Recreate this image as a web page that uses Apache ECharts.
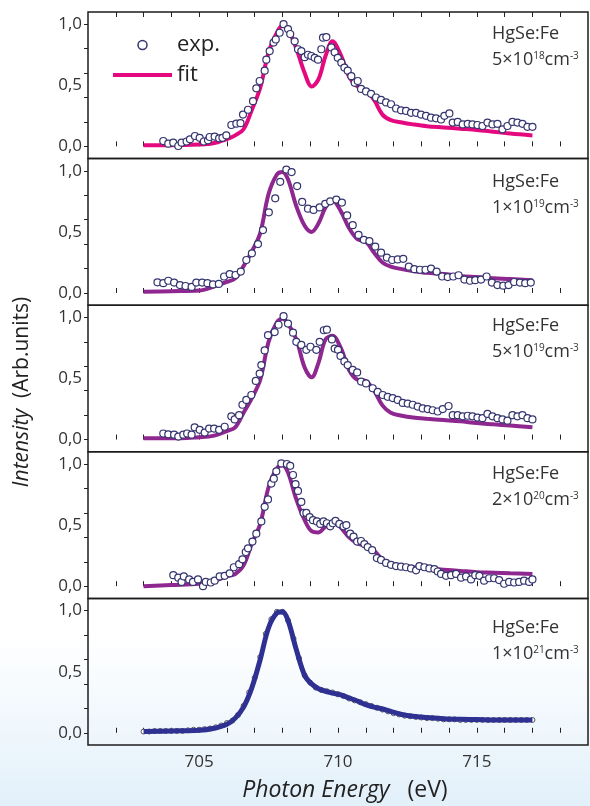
<!DOCTYPE html>
<html>
<head>
<meta charset="utf-8">
<script src="https://cdn.jsdelivr.net/npm/echarts@6/dist/echarts.min.js"></script>
<style>
html, body { margin: 0; padding: 0; }
body { width: 590px; height: 806px; background: linear-gradient(to bottom, #ffffff 0%, #ffffff 79%, #e2f0fa 100%); }
#chart { width: 590px; height: 806px; }
</style>
</head>
<body>
<div id="chart"></div>
<script>
// tick positions / labels
var xTicks = [702, 703, 704, 705, 706, 707, 708, 709, 710, 711, 712, 713, 714, 715, 716, 717, 718];
var xLabels = [705, 710, 715];
var yTicks = [0, 0.2, 0.4, 0.6, 0.8, 1.0];
var yLabels = [0, 0.5, 1.0];
var sampleNames = ['5×10|18', '1×10|19', '5×10|19', '2×10|20', '1×10|21'];

// energies where the fit curves are sampled (eV)
var fitE = [703, 704, 705, 705.5, 706, 706.3, 706.6, 706.9, 707.2, 707.5, 707.8, 708.0, 708.2, 708.5, 708.8,
  709.05, 709.3, 709.55, 709.8, 710.1, 710.4, 710.7, 711.0, 711.3, 711.6, 711.9, 712.3, 712.7, 713.2, 713.8,
  714.4, 715.0, 715.6, 716.2, 717];

var fit1 = [0.01, 0.01, 0.015, 0.025, 0.06, 0.09, 0.14, 0.30, 0.48, 0.77, 0.93, 0.99, 0.96, 0.80, 0.60,
  0.49, 0.55, 0.74, 0.86, 0.75, 0.57, 0.49, 0.46, 0.38, 0.26, 0.215, 0.195, 0.18, 0.165, 0.155,
  0.145, 0.135, 0.12, 0.105, 0.09];
var fit2 = [0.01, 0.015, 0.02, 0.05, 0.09, 0.12, 0.22, 0.34, 0.49, 0.81, 0.97, 0.99, 0.93, 0.71, 0.55,
  0.50, 0.57, 0.70, 0.76, 0.67, 0.53, 0.44, 0.42, 0.33, 0.25, 0.215, 0.195, 0.18, 0.165, 0.155,
  0.14, 0.13, 0.12, 0.115, 0.105];
var fit3 = [0.01, 0.01, 0.02, 0.03, 0.07, 0.10, 0.22, 0.34, 0.49, 0.80, 0.96, 0.99, 0.95, 0.82, 0.59,
  0.51, 0.63, 0.82, 0.85, 0.75, 0.57, 0.49, 0.48, 0.40, 0.28, 0.22, 0.195, 0.18, 0.17, 0.16,
  0.15, 0.135, 0.125, 0.115, 0.10];
var fit4 = [0.0, 0.01, 0.02, 0.04, 0.08, 0.10, 0.17, 0.35, 0.51, 0.81, 0.965, 0.99, 0.93, 0.71, 0.54,
  0.45, 0.44, 0.49, 0.53, 0.48, 0.40, 0.35, 0.33, 0.29, 0.22, 0.185, 0.165, 0.155, 0.145, 0.135,
  0.125, 0.115, 0.11, 0.105, 0.10];
var fit5 = [0.01, 0.015, 0.02, 0.035, 0.07, 0.12, 0.21, 0.37, 0.60, 0.86, 0.98, 0.99, 0.92, 0.68, 0.47,
  0.40, 0.36, 0.34, 0.325, 0.31, 0.285, 0.26, 0.23, 0.21, 0.195, 0.175, 0.15, 0.135, 0.125, 0.115,
  0.11, 0.108, 0.105, 0.105, 0.105];

// experimental points [eV, intensity]
var exp1 = [[703.71,0.044],[703.89,0.022],[704.07,0.03],[704.25,0.003],[704.37,0.03],[704.55,0.04],[704.67,0.058],[704.85,0.085],[705.02,0.07],[705.17,0.04],[705.32,0.05],[705.38,0.077],[705.56,0.08],[705.72,0.066],[705.84,0.07],[705.98,0.09],[706.16,0.175],[706.34,0.186],[706.49,0.19],[706.58,0.26],[706.76,0.30],[706.94,0.37],[707.06,0.475],[707.18,0.535],[707.36,0.62],[707.42,0.71],[707.54,0.78],[707.68,0.85],[707.76,0.875],[707.9,0.93],[708.04,1.0],[708.2,0.96],[708.28,0.92],[708.44,0.86],[708.56,0.795],
  [708.68,0.78],[708.8,0.73],[708.92,0.75],[709.04,0.74],[709.16,0.725],[709.28,0.71],[709.4,0.795],[709.46,0.89],[709.58,0.895],[709.76,0.81],[709.88,0.77],[709.99,0.725],[710.12,0.685],[710.23,0.645],[710.35,0.62],[710.48,0.575],[710.6,0.52],[710.71,0.535],[710.83,0.47],[711.01,0.45],[711.19,0.43],[711.37,0.40],[711.55,0.38],[711.73,0.36],[711.91,0.345],[712.09,0.31],[712.27,0.295],[712.45,0.29],[712.63,0.275],[712.81,0.275],[712.99,0.26],[713.17,0.25],[713.35,0.235],[713.53,0.23],[713.71,0.22],[713.83,0.25],[714.01,0.27],[714.13,0.195],[714.31,0.20],[714.49,0.18],[714.67,0.185],[714.84,0.18],[715.02,0.175],[715.2,0.167],[715.38,0.195],[715.56,0.18],[715.74,0.185],[715.92,0.14],[716.1,0.167],[716.28,0.20],[716.46,0.195],[716.64,0.185],[716.82,0.16],[717.0,0.16]];
var exp2 = [[703.5,0.087],[703.71,0.08],[703.89,0.10],[704.1,0.085],[704.31,0.065],[704.51,0.057],[704.73,0.05],[704.9,0.085],[705.11,0.085],[705.3,0.08],[705.5,0.07],[705.71,0.074],[705.9,0.135],[706.1,0.155],[706.31,0.147],[706.5,0.175],[706.7,0.27],[706.9,0.325],[707.12,0.40],[707.3,0.515],[707.51,0.66],[707.74,0.775],[707.92,0.91],[708.14,1.01],[708.33,0.99],[708.53,0.875],[708.71,0.745],[708.92,0.69],[709.12,0.68],[709.34,0.70],[709.54,0.73],[709.72,0.75],[709.94,0.765],[710.14,0.74],[710.33,0.635],[710.53,0.555],[710.74,0.475],[710.93,0.435],[711.13,0.425],[711.34,0.38],[711.55,0.33],[711.76,0.29],[711.95,0.27],[712.15,0.275],[712.35,0.28],[712.55,0.215],[712.75,0.195],[712.95,0.19],[713.15,0.19],[713.35,0.20],[713.55,0.175],[713.75,0.135],[713.95,0.13],[714.15,0.135],[714.34,0.145],[714.55,0.11],[714.75,0.10],[714.94,0.105],[715.15,0.11],[715.35,0.135],[715.54,0.085],[715.74,0.065],[715.95,0.06],[716.14,0.065],[716.34,0.09],[716.55,0.085],[716.74,0.08],[716.94,0.085]];
var exp3 = [[703.71,0.05],[703.89,0.043],[704.1,0.04],[704.25,0.025],[704.43,0.04],[704.57,0.05],[704.73,0.04],[704.84,0.10],[705.02,0.08],[705.2,0.057],[705.36,0.09],[705.54,0.09],[705.72,0.08],[705.92,0.105],[706.16,0.19],[706.28,0.165],[706.44,0.20],[706.56,0.285],[706.7,0.325],[706.88,0.365],[707.04,0.48],[707.18,0.54],[707.24,0.61],[707.36,0.73],[707.48,0.855],[707.72,0.88],[707.86,0.94],[708.04,1.01],[708.2,0.95],[708.38,0.875],[708.5,0.80],[708.68,0.775],[708.86,0.735],[709.01,0.76],[709.22,0.735],[709.34,0.80],[709.49,0.895],[709.6,0.90],[709.78,0.82],[709.88,0.745],[710.0,0.735],[710.09,0.685],[710.23,0.64],[710.35,0.61],[710.53,0.57],[710.69,0.55],[710.83,0.475],[711.01,0.46],[711.25,0.42],[711.43,0.39],[711.61,0.365],[711.79,0.35],[711.97,0.34],[712.15,0.325],[712.33,0.30],[712.51,0.295],[712.69,0.285],[712.87,0.27],[713.05,0.255],[713.23,0.25],[713.41,0.24],[713.59,0.23],[713.77,0.25],[713.98,0.275],[714.13,0.20],[714.31,0.20],[714.49,0.19],[714.67,0.195],[714.84,0.19],[715.02,0.18],[715.2,0.175],[715.38,0.21],[715.56,0.19],[715.74,0.175],[715.92,0.165],[716.1,0.155],[716.28,0.20],[716.46,0.19],[716.64,0.20],[716.82,0.175],[717.0,0.165]];
var exp4 = [[704.07,0.09],[704.25,0.07],[704.37,0.035],[704.45,0.08],[704.64,0.055],[704.78,0.035],[704.96,0.055],[705.14,0.0],[705.24,0.035],[705.42,0.03],[705.56,0.045],[705.74,0.08],[705.92,0.085],[706.1,0.105],[706.25,0.155],[706.44,0.18],[706.56,0.22],[706.68,0.28],[706.76,0.31],[706.92,0.365],[707.06,0.43],[707.24,0.53],[707.36,0.65],[707.48,0.71],[707.6,0.84],[707.69,0.88],[707.78,0.94],[707.96,1.005],[708.16,1.0],[708.28,0.985],[708.38,0.91],[708.47,0.835],[708.56,0.78],[708.68,0.69],[708.76,0.60],[708.86,0.60],[708.98,0.565],[709.1,0.54],[709.24,0.53],[709.36,0.51],[709.48,0.53],[709.6,0.515],[709.72,0.49],[709.81,0.515],[709.91,0.535],[710.05,0.51],[710.2,0.49],[710.3,0.50],[710.44,0.43],[710.56,0.405],[710.69,0.365],[710.83,0.37],[710.95,0.345],[711.07,0.32],[711.23,0.295],[711.4,0.23],[711.55,0.215],[711.73,0.19],[711.91,0.175],[712.09,0.165],[712.27,0.16],[712.45,0.155],[712.63,0.145],[712.81,0.13],[712.93,0.165],[713.11,0.155],[713.29,0.145],[713.47,0.14],[713.59,0.12],[713.71,0.10],[713.89,0.085],[714.07,0.09],[714.25,0.10],[714.43,0.07],[714.61,0.08],[714.79,0.055],[714.94,0.09],[715.09,0.085],[715.26,0.045],[715.44,0.065],[715.62,0.065],[715.8,0.05],[715.98,0.02],[716.16,0.035],[716.34,0.03],[716.52,0.035],[716.7,0.045],[716.88,0.035],[717.0,0.055]];
var exp5 = [[703.0,0.01],[703.2,0.01],[703.4,0.015],[703.6,0.015],[703.8,0.015],[704.0,0.015],[704.2,0.015],[704.4,0.015],[704.6,0.02],[704.8,0.025],[705.0,0.025],[705.2,0.03],[705.4,0.035],[705.6,0.045],[705.8,0.06],[706.0,0.08],[706.2,0.10],[706.4,0.145],[706.6,0.22],[706.8,0.33],[707.0,0.45],[707.2,0.62],[707.4,0.81],[707.6,0.93],[707.8,0.99],[708.0,0.99],[708.2,0.92],[708.4,0.77],[708.6,0.61],[708.8,0.47],[709.0,0.41],[709.2,0.37],[709.4,0.35],[709.6,0.34],[709.8,0.33],[710.0,0.315],[710.2,0.30],[710.4,0.28],[710.6,0.265],[710.8,0.25],[711.0,0.235],[711.2,0.22],[711.4,0.205],[711.6,0.19],[711.8,0.175],[712.0,0.16],[712.2,0.15],[712.4,0.14],[712.6,0.135],[712.8,0.13],[713.0,0.125],[713.2,0.12],[713.4,0.12],[713.6,0.115],[713.8,0.11],[714.0,0.11],[714.2,0.11],[714.4,0.105],[714.6,0.105],[714.8,0.105],[715.0,0.105],[715.2,0.105],[715.4,0.105],[715.6,0.105],[715.8,0.105],[716.0,0.105],[716.2,0.105],[716.4,0.105],[716.6,0.105],[716.8,0.105],[717.0,0.105]];

var expSets = [exp1, exp2, exp3, exp4, exp5];
var fitSets = [fit1, fit2, fit3, fit4, fit5];
var fitColors = ['#e5097f', '#8e278f', '#8e278f', '#8e278f', '#2e3192'];
var labelY = [25, 173, 317, 465, 619];

var FONT = '"Open Sans", "DejaVu Sans", sans-serif';
var chart = echarts.init(document.getElementById('chart'), null, { renderer: 'canvas' });

var grids = [], xAxes = [], yAxes = [], series = [], texts = [];
var top0 = 12, ph = 146.6;

for (var i = 0; i < 5; i++) {
  grids.push({ left: 88, width: 500, top: top0 + ph * i, height: ph, show: true,
    borderColor: '#1c1c1c', borderWidth: 1.5, backgroundColor: 'transparent' });
  xAxes.push({ gridIndex: i, type: 'value', min: 701, max: 719,
    axisLine: { show: false }, splitLine: { show: false },
    axisTick: { inside: true, length: 5, customValues: xTicks, lineStyle: { color: '#222', width: 1 } },
    axisLabel: { show: i === 4, customValues: xLabels, fontSize: 17, color: '#333', margin: 9, fontFamily: FONT } });
  yAxes.push({ gridIndex: i, type: 'value', min: -0.1, max: 1.1,
    axisLine: { show: false }, splitLine: { show: false },
    axisTick: { inside: false, length: 4, customValues: yTicks, lineStyle: { color: '#222', width: 1 } },
    axisLabel: { customValues: yLabels, fontSize: 17, color: '#333', margin: 6, fontFamily: FONT,
      formatter: function (v) { return v.toFixed(1).replace('.', ','); } } });

  var fitData = fitE.map(function (e, j) { return [e, fitSets[i][j]]; });
  var last = i === 4;
  series.push({ type: 'line', name: i === 0 ? 'fit' : 'fit' + (i + 1), xAxisIndex: i, yAxisIndex: i,
    data: fitData, smooth: 0.35, symbol: 'none', showSymbol: false,
    lineStyle: { color: fitColors[i], width: last ? 5 : 4 }, itemStyle: { color: fitColors[i] },
    z: last ? 3 : 2 });
  series.push({ type: 'scatter', name: i === 0 ? 'exp.' : 'exp' + (i + 1), xAxisIndex: i, yAxisIndex: i,
    data: expSets[i], symbol: 'circle', symbolSize: last ? 5 : 7,
    itemStyle: { color: '#fff', borderColor: last ? '#555' : '#34346f', borderWidth: last ? 1 : 1.2, opacity: 1 },
    z: last ? 2 : 3 });

  var parts = sampleNames[i].split('|');
  texts.push({ type: 'text', x: 492, y: labelY[i], z: 10,
    style: { text: '{a|HgSe:Fe}\n{a|' + parts[0] + '}{s|' + parts[1] + '}{a|cm}{s|-3}',
      fill: '#333', fontFamily: FONT,
      rich: { a: { fontSize: 18, lineHeight: 26, verticalAlign: 'top', fontFamily: FONT, fill: '#333' },
              s: { fontSize: 10, lineHeight: 26, verticalAlign: 'top', fontFamily: FONT, fill: '#333' } } } });
}

// top ticks of the first panel
xAxes.push({ gridIndex: 0, type: 'value', position: 'top', min: 701, max: 719,
  axisLine: { show: false }, splitLine: { show: false },
  axisTick: { inside: true, length: 5, customValues: xTicks, lineStyle: { color: '#222' } },
  axisLabel: { show: false } });

texts.push({ type: 'text', x: 22, y: 392, rotation: Math.PI / 2, z: 10,
  style: { text: '{i|Intensity}  (Arb.units)', fontSize: 21, fill: '#222', fontFamily: FONT,
    align: 'center', verticalAlign: 'middle',
    rich: { i: { fontStyle: 'italic', fontSize: 21, fontFamily: FONT, fill: '#222' } } } });
texts.push({ type: 'text', x: 345, y: 790, z: 10,
  style: { text: '{i|Photon Energy}   (eV)', fontSize: 23, fill: '#222', fontFamily: FONT,
    align: 'center', verticalAlign: 'middle',
    rich: { i: { fontStyle: 'italic', fontSize: 23, fontFamily: FONT, fill: '#222' } } } });

chart.setOption({
  animation: false,
  backgroundColor: 'transparent',
  grid: grids,
  xAxis: xAxes,
  yAxis: yAxes,
  legend: {
    data: [
      { name: 'exp.', icon: 'circle', itemStyle: { color: '#fff', borderColor: '#34346f', borderWidth: 1.5 } },
      { name: 'fit', icon: 'path://M0,0 L60,0 L60,4 L0,4 Z', itemStyle: { color: fitColors[0], borderWidth: 0 } }
    ],
    orient: 'vertical', left: 113, top: 34, itemWidth: 59, itemHeight: 9, itemGap: 8,
    selectedMode: false, padding: 0,
    textStyle: { fontSize: 22, color: '#222', fontFamily: FONT }
  },
  graphic: texts,
  series: series
});
</script>
</body>
</html>
